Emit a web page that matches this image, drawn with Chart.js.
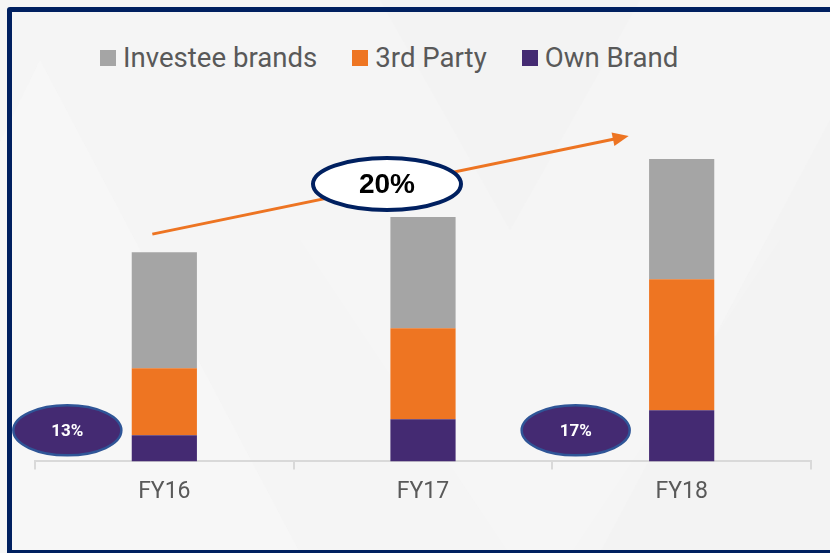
<!DOCTYPE html>
<html>
<head>
<meta charset="utf-8">
<script src="https://cdn.jsdelivr.net/npm/chart.js@4.4.1/dist/chart.umd.min.js"></script>
<style>
  html, body { margin: 0; padding: 0; }
  body {
    width: 830px; height: 553px; overflow: hidden; position: relative;
    background: #f5f5f5;
    font-family: Roboto, "Noto Sans", sans-serif;
  }
  .bg { position: absolute; left: 0; top: 0; }
  .frame {
    position: absolute; left: 7px; top: 7px; width: 840px; height: 548px;
    border: 5px solid #002060; border-radius: 3px; box-sizing: border-box;
  }
  #legend {
    position: absolute; left: 100px; top: 41px; display: flex; align-items: center;
    font-size: 27.6px; color: #595959;
  }
  #legend .item { display: flex; align-items: center; margin-right: 35px; }
  #legend .box { width: 16px; height: 16px; margin-right: 7px; }
  canvas { position: absolute; left: 0; top: 0; }
</style>
</head>
<body>
<svg class="bg" width="830" height="553">
  <polygon points="40,60 300,553 -200,553" fill="#f8f8f8" opacity="0.6"/>
  <polygon points="380,0 640,0 510,230" fill="#f1f1f1" opacity="0.5"/>
  <polygon points="300,240 780,240 540,600" fill="#f7f7f7" opacity="0.5"/>
  <polygon points="830,120 600,553 830,553" fill="#f2f2f2" opacity="0.5"/>
</svg>
<div class="frame"></div>
<div id="legend"></div>
<canvas id="chart" width="830" height="553"></canvas>
<script>
const categories = ['FY16', 'FY17', 'FY18'];
const ownBrand = [26, 42, 51];
const thirdParty = [67, 91, 131];
const investee = [116, 111, 120];
const ownShareLabels = ['13%', '', '17%'];
const growthLabel = '20%';

const colors = { own: '#442a72', third: '#ee7522', inv: '#a5a5a5' };

const datasets = [
  { label: 'Own Brand', data: ownBrand, backgroundColor: colors.own },
  { label: '3rd Party', data: thirdParty, backgroundColor: colors.third },
  { label: 'Investee brands', data: investee, backgroundColor: colors.inv }
];

// legend in HTML, top segment first
const legend = document.getElementById('legend');
datasets.slice().reverse().forEach(ds => {
  const item = document.createElement('div');
  item.className = 'item';
  const box = document.createElement('span');
  box.className = 'box';
  box.style.background = ds.backgroundColor;
  item.appendChild(box);
  item.appendChild(document.createTextNode(ds.label));
  legend.appendChild(item);
});

function ellipse(ctx, cx, cy, rx, ry, fill, stroke, lw) {
  ctx.beginPath();
  ctx.ellipse(cx, cy, rx, ry, 0, 0, Math.PI * 2);
  ctx.fillStyle = fill;
  ctx.fill();
  ctx.lineWidth = lw;
  ctx.strokeStyle = stroke;
  ctx.stroke();
}

const notes = {
  id: 'notes',
  afterDatasetsDraw(chart) {
    const ctx = chart.ctx;
    const x = chart.scales.x, y = chart.scales.y;
    const totals = categories.map((c, i) => ownBrand[i] + thirdParty[i] + investee[i]);
    ctx.save();

    // growth arrow
    const x0 = x.getPixelForValue(0) - 12, y0 = y.getPixelForValue(totals[0] + 18);
    const x1 = x.getPixelForValue(2) - 53, y1 = y.getPixelForValue(totals[2] + 23);
    const ang = Math.atan2(y1 - y0, x1 - x0);
    ctx.strokeStyle = '#ed7422';
    ctx.fillStyle = '#ed7422';
    ctx.lineWidth = 3;
    ctx.beginPath();
    ctx.moveTo(x0, y0);
    ctx.lineTo(x1 - 12 * Math.cos(ang), y1 - 12 * Math.sin(ang));
    ctx.stroke();
    ctx.beginPath();
    ctx.moveTo(x1, y1);
    ctx.lineTo(x1 - 16 * Math.cos(ang) + 7 * Math.sin(ang), y1 - 16 * Math.sin(ang) - 7 * Math.cos(ang));
    ctx.lineTo(x1 - 16 * Math.cos(ang) - 7 * Math.sin(ang), y1 - 16 * Math.sin(ang) + 7 * Math.cos(ang));
    ctx.closePath();
    ctx.fill();

    // growth bubble
    const gx = x.getPixelForValue(1) - 36, gy = y.getPixelForValue(277);
    ellipse(ctx, gx, gy, 74, 26, '#ffffff', '#002060', 4);
    ctx.fillStyle = '#000';
    ctx.font = 'bold 28px "Liberation Sans", Arial, sans-serif';
    ctx.textAlign = 'center';
    ctx.textBaseline = 'middle';
    ctx.fillText(growthLabel, gx, gy + 1);

    // own brand share bubbles
    ctx.font = 'bold 17px Roboto, sans-serif';
    ownShareLabels.forEach((t, i) => {
      if (!t) return;
      const cx = x.getPixelForValue(i) - (i === 0 ? 97 : 106);
      const cy = y.getPixelForValue(31);
      ellipse(ctx, cx, cy, 54, 25, colors.own, '#2f5597', 2.5);
      ctx.fillStyle = '#fff';
      ctx.fillText(t, cx, cy + 1);
    });
    ctx.restore();
  }
};

new Chart(document.getElementById('chart'), {
  type: 'bar',
  data: { labels: categories, datasets: datasets },
  options: {
    responsive: false,
    animation: false,
    devicePixelRatio: 1,
    layout: { padding: { left: 35, right: 19, top: 111, bottom: 38 } },
    datasets: { bar: { categoryPercentage: 1, barPercentage: 0.252 } },
    plugins: { legend: { display: false }, tooltip: { enabled: false } },
    scales: {
      x: {
        stacked: true,
        grid: { display: true, drawOnChartArea: false, drawTicks: true, tickLength: 8, color: '#d9d9d9', lineWidth: 2 },
        border: { display: true, color: '#d9d9d9', width: 2 },
        ticks: { color: '#595959', font: { family: 'Roboto', size: 23 }, padding: 9 }
      },
      y: { stacked: true, display: false, min: 0, max: 350 }
    }
  },
  plugins: [notes]
});
</script>
</body>
</html>
